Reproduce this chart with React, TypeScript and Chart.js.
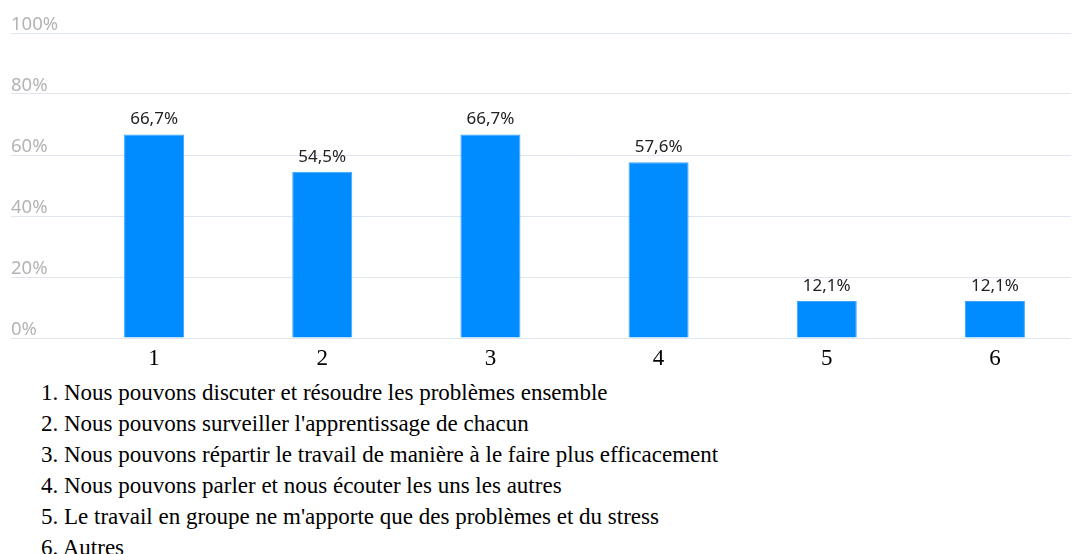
import React, { useEffect, useRef } from "react";
import { Chart, registerables } from "chart.js";

Chart.register(...registerables);

const categories = ["1", "2", "3", "4", "5", "6"];
const values = [66.7, 54.5, 66.7, 57.6, 12.1, 12.1];
const yTicks = [0, 20, 40, 60, 80, 100];
const legendItems = [
  "1. Nous pouvons discuter et résoudre les problèmes ensemble",
  "2. Nous pouvons surveiller l'apprentissage de chacun",
  "3. Nous pouvons répartir le travail de manière à le faire plus efficacement",
  "4. Nous pouvons parler et nous écouter les uns les autres",
  "5. Le travail en groupe ne m'apporte que des problèmes et du stress",
  "6. Autres",
];

const fmt = (v: number) => v.toFixed(1).replace(".", ",") + "%";

const valueLabels = {
  id: "valueLabels",
  afterDatasetsDraw(chart: any) {
    const ctx = chart.ctx;
    const meta = chart.getDatasetMeta(0);
    ctx.save();
    ctx.font = "17px 'Noto Sans'";
    ctx.fillStyle = "#222222";
    ctx.textAlign = "center";
    ctx.textBaseline = "middle";
    meta.data.forEach((bar: any, i: number) => {
      ctx.fillText(fmt(values[i]), bar.x, bar.y - 15);
    });
    ctx.restore();
  },
};

export default function App() {
  const ref = useRef<HTMLCanvasElement>(null);
  useEffect(() => {
    if (!ref.current) return;
    const chart = new Chart(ref.current, {
      type: "bar",
      data: {
        labels: categories,
        datasets: [
          {
            data: values,
            backgroundColor: "#008cff",
            borderColor: "#3aa6ff",
            borderWidth: 1,
            categoryPercentage: 0.357,
            barPercentage: 1,
          },
        ],
      },
      options: {
        animation: false,
        responsive: false,
        maintainAspectRatio: false,
        layout: { padding: { left: 3, right: 0, top: 25, bottom: 4 } },
        plugins: {
          legend: { display: false },
          tooltip: { enabled: false },
        },
        scales: {
          x: {
            afterFit: (scale: any) => {
              scale.height = 35;
            },
            grid: { display: false, drawTicks: false },
            border: { display: false },
            ticks: {
              color: "#000000",
              font: { family: "'Liberation Serif'", size: 23 },
              padding: 7,
            },
          },
          y: {
            min: 0,
            max: 100,
            afterBuildTicks: (scale: any) => {
              scale.ticks = yTicks.map((v) => ({ value: v }));
            },
            afterFit: (scale: any) => {
              scale.width = 59;
            },
            grid: {
              color: "#e0e6f1",
              tickColor: "#e0e6f1",
              tickLength: 59,
              lineWidth: 1,
            },
            border: { display: false },
            ticks: {
              color: "#b4b4b4",
              font: { family: "'Noto Sans'", size: 18.5 },
              crossAlign: "far",
              labelOffset: -8,
              padding: 0,
              callback: (v: any) => v + "%",
            },
          },
        },
      },
      plugins: [valueLabels],
    });
    return () => chart.destroy();
  }, []);

  return (
    <div style={{ width: 1063 }}>
      <canvas ref={ref} width={1071} height={369} style={{ display: "block", width: 1071, height: 369 }} />
      <div style={{ fontFamily: "'Liberation Serif', 'Times New Roman', serif", fontSize: 23, lineHeight: "31px", color: "#000", paddingLeft: 33, whiteSpace: "nowrap" }}>
        {legendItems.map((t) => (
          <div key={t}>{t}</div>
        ))}
      </div>
    </div>
  );
}
